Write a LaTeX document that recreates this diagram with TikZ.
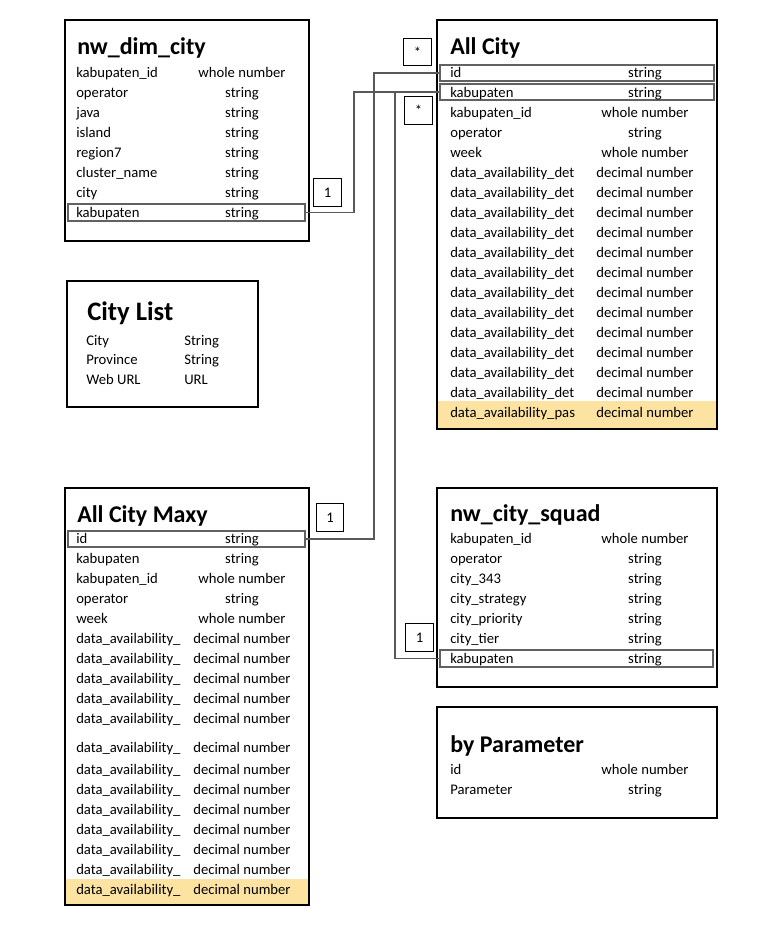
\documentclass[tikz,border=0pt]{standalone}
\usepackage{fontspec}
\setmainfont{Carlito}
\usetikzlibrary{fit}
\definecolor{rowyellow}{HTML}{FDE3A2}
\begin{document}
\begin{tikzpicture}[x=0.75pt,y=-0.75pt,
  tbl/.style={draw=black, line width=1pt, inner sep=0pt},
  keyrow/.style={draw=black!62, line width=1.2pt, inner sep=0pt},
  hilite/.style={fill=rowyellow, inner sep=0pt},
  card/.style={draw=black, line width=0.9pt, inner sep=0pt, minimum width=20.5pt, minimum height=20.5pt, font=\fontsize{11}{13}\selectfont},
  title/.style={font=\fontsize{18}{20}\selectfont\bfseries, anchor=base west, inner sep=0pt},
  fname/.style={font=\fontsize{11}{13}\selectfont, anchor=base west, inner sep=0pt},
  ftype/.style={font=\fontsize{11}{13}\selectfont, anchor=base, inner sep=0pt},
  ftypel/.style={font=\fontsize{11}{13}\selectfont, anchor=base west, inner sep=0pt},
  conn/.style={draw=black!65, line width=1.1pt}
]
\useasboundingbox (0,0) rectangle (782,927);

% ---------- table frames ----------
\node[tbl, fit={(65,20) (309,241)}] (dimcity) {};
\node[tbl, fit={(67,281) (258,407)}] (citylist) {};
\node[tbl, fit={(65,488) (309,905)}] (maxy) {};
\node[tbl, fit={(437,20) (717,429)}] (allcity) {};
\node[tbl, fit={(437,488) (717,687)}] (squad) {};
\node[tbl, fit={(437,707) (717,818)}] (param) {};

% ---------- highlighted (yellow) rows ----------
\node[hilite, fit={(438,401) (716,428)}] (allcity-last) {};
\node[hilite, fit={(66,879) (308,904)}] (maxy-last) {};

% ---------- key rows ----------
\node[keyrow, fit={(68,204) (305,221)}] (dimcity-kab) {};
\node[keyrow, fit={(440,65) (714,81)}] (allcity-id) {};
\node[keyrow, fit={(440,84) (714,100)}] (allcity-kab) {};
\node[keyrow, fit={(68,531) (305,547)}] (maxy-id) {};
\node[keyrow, fit={(440,650) (713,667)}] (squad-kab) {};

% ---------- nw_dim_city ----------
\node[title] (dimcity-title) at (77,55) {nw\_dim\_city};
\foreach \n/\t [count=\i] in {kabupaten\_id/whole number, operator/string, java/string,
  island/string, region7/string, cluster\_name/string, city/string, kabupaten/string}{
  \node[fname] (dimcity-n\i) at (76,{57.5+20*\i}) {\n};
  \node[ftype] (dimcity-t\i) at (242,{57.5+20*\i}) {\t};
}

% ---------- City List ----------
\node[title, font=\fontsize{20}{22}\selectfont\bfseries] (citylist-title) at (87,320) {City List};
\foreach \n/\t/\y [count=\i] in {City/String/345, Province/String/364, Web URL/URL/384}{
  \node[fname] (citylist-n\i) at (86,\y) {\n};
  \node[ftypel] (citylist-t\i) at (184,\y) {\t};
}

% ---------- All City ----------
\node[title] (allcity-title) at (450,55) {All City};
\foreach \n/\t [count=\i] in {id/string, kabupaten/string, kabupaten\_id/whole number,
  operator/string, week/whole number,
  data\_availability\_det/decimal number, data\_availability\_det/decimal number,
  data\_availability\_det/decimal number, data\_availability\_det/decimal number,
  data\_availability\_det/decimal number, data\_availability\_det/decimal number,
  data\_availability\_det/decimal number, data\_availability\_det/decimal number,
  data\_availability\_det/decimal number, data\_availability\_det/decimal number,
  data\_availability\_det/decimal number, data\_availability\_det/decimal number,
  data\_availability\_pas/decimal number}{
  \node[fname] (allcity-n\i) at (450,{57.5+20*\i}) {\n};
  \node[ftype] (allcity-t\i) at (645,{57.5+20*\i}) {\t};
}

% ---------- All City Maxy ----------
\node[title] (maxy-title) at (77,522) {All City Maxy};
\foreach \n/\t/\y [count=\i] in {id/string/538, kabupaten/string/558,
  kabupaten\_id/whole number/578, operator/string/598, week/whole number/618,
  data\_availability\_/decimal number/638, data\_availability\_/decimal number/658,
  data\_availability\_/decimal number/678, data\_availability\_/decimal number/698,
  data\_availability\_/decimal number/718, data\_availability\_/decimal number/747,
  data\_availability\_/decimal number/769, data\_availability\_/decimal number/789,
  data\_availability\_/decimal number/809, data\_availability\_/decimal number/829,
  data\_availability\_/decimal number/849, data\_availability\_/decimal number/869,
  data\_availability\_/decimal number/889}{
  \node[fname] (maxy-n\i) at (76,{\y+5.5}) {\n};
  \node[ftype] (maxy-t\i) at (242,{\y+5.5}) {\t};
}

% ---------- nw_city_squad ----------
\node[title] (squad-title) at (450,521) {nw\_city\_squad};
\foreach \n/\t [count=\i] in {kabupaten\_id/whole number, operator/string, city\_343/string,
  city\_strategy/string, city\_priority/string, city\_tier/string, kabupaten/string}{
  \node[fname] (squad-n\i) at (450,{523.5+20*\i}) {\n};
  \node[ftype] (squad-t\i) at (645,{523.5+20*\i}) {\t};
}

% ---------- by Parameter ----------
\node[title] (param-title) at (450,752) {by Parameter};
\node[fname] (param-n1) at (450,774.5) {id};
\node[ftype] (param-t1) at (645,774.5) {whole number};
\node[fname] (param-n2) at (450,794.5) {Parameter};
\node[ftype] (param-t2) at (645,794.5) {string};

% ---------- cardinality cards ----------
\node[card] (card-star1) at (417.5,52) {*};
\node[card] (card-star2) at (418.5,110.5) {*};
\node[card] (card-one1) at (327.5,192.5) {1};
\node[card] (card-one2) at (330,517.5) {1};
\node[card] (card-one3) at (419.5,637.5) {1};

% ---------- connectors ----------
\draw[conn] (maxy-id.east) -- ++(68,0) |- (allcity-id.west);
\draw[conn] (dimcity-kab.east) -- ++(48,0) |- (allcity-kab.west);
\draw[conn] (squad-kab.west) -- ++(-44,0) |- (allcity-kab.west);
\end{tikzpicture}
\end{document}
